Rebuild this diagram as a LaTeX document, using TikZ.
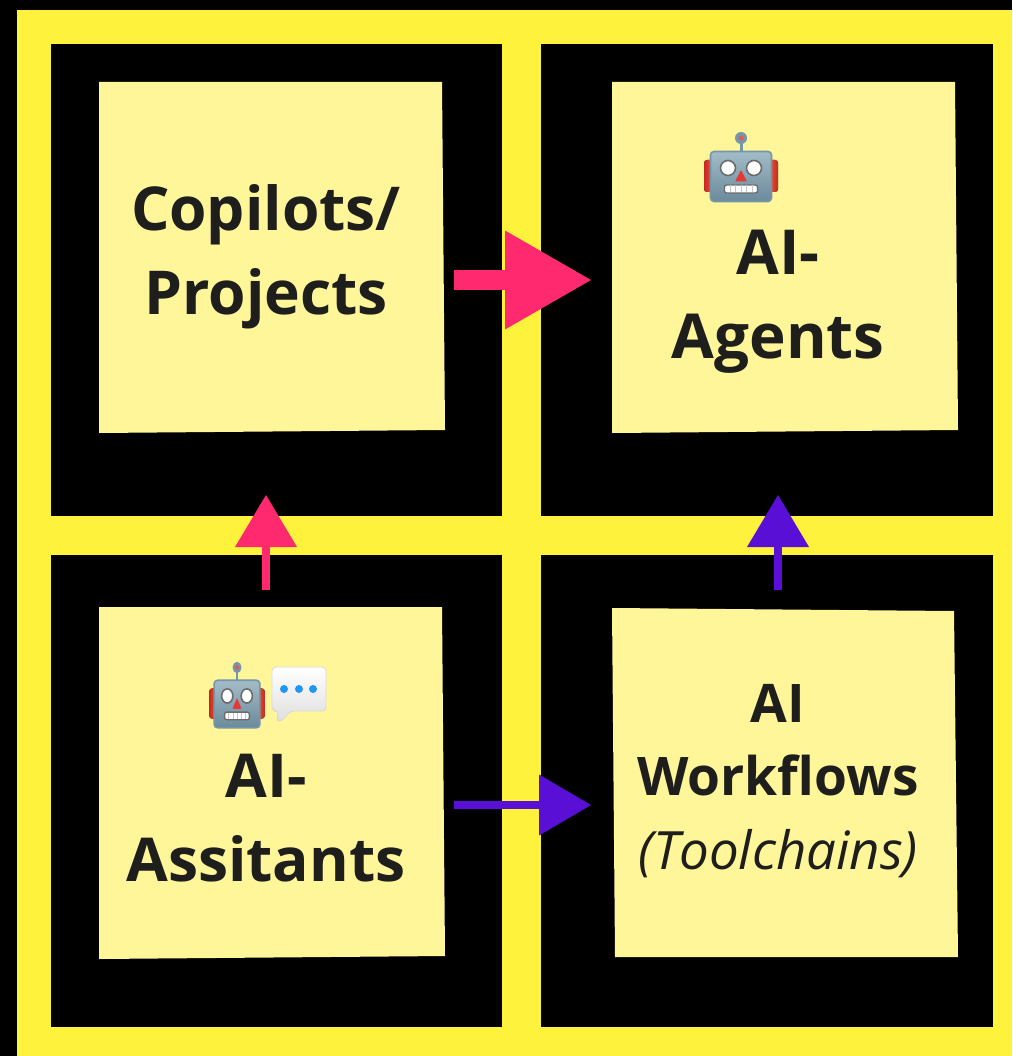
\documentclass[tikz,border=0pt]{standalone}
\usepackage{fontspec}
\setmainfont{Open Sans}
\usetikzlibrary{arrows.meta}
\definecolor{bgyellow}{HTML}{FFF23C}
\definecolor{noteyellow}{HTML}{FFF599}
\definecolor{inkdark}{HTML}{1E1E1C}
\definecolor{hotpink}{HTML}{FF2970}
\definecolor{violet}{HTML}{5A0FD6}
\definecolor{robotedge}{HTML}{7297AA}
\definecolor{robottop}{HTML}{A4BCC8}
\definecolor{robotbot}{HTML}{6A8A9B}
\definecolor{earred}{HTML}{C62828}
\definecolor{earorange}{HTML}{F4511E}
\definecolor{nosered}{HTML}{E53935}
\definecolor{dotblue}{HTML}{2196F3}
\tikzset{
  panel/.style={fill=black},
  sticky/.style={fill=noteyellow},
  title/.style={text=inkdark,font=\fontsize{60.5}{84}\selectfont\bfseries,align=center,inner sep=0pt},
  fatarrow/.style n args={4}{draw=#1,line width=#2,-{Triangle[length=#3,width=#4,fill=#1,line width=0pt]}},
  robot/.pic={
    % ears
    \fill[rounded corners=3pt,left color=earred,right color=earorange] (-37,-7) rectangle (-28,25);
    \fill[rounded corners=3pt,right color=earred,left color=earorange] (37,-7) rectangle (28,25);
    % antenna
    \fill[robotedge] (-1.5,-29) rectangle (1.5,-15);
    \fill[robotedge] (0,-29) circle (6);
    \fill[nosered!80!pink] (0,-29) circle (2.4);
    % head
    \draw[robotedge,line width=1.6pt,rounded corners=3.5pt,top color=robottop,bottom color=robotbot] (-30.5,-15.5) rectangle (30.5,34.5);
    % eyes
    \draw[draw=gray!85!black,line width=1.6pt,fill=white] (-13,1) circle (7.5);
    \draw[draw=gray!85!black,line width=1.6pt,fill=white] (13,1) circle (7.5);
    % nose
    \fill[nosered,rounded corners=1pt] (0,3) -- (-6,14.5) -- (6,14.5) -- cycle;
    % teeth
    \draw[draw=gray!85!black,line width=1.4pt,fill=white,rounded corners=2pt] (-16.5,18) rectangle (16.5,26);
    \foreach \t in {-11,-5.5,0,5.5,11} \draw[gray!45,line width=.6pt] (\t,18.5) -- (\t,25.5);
  }
}
\begin{document}
\begin{tikzpicture}[x=1pt,y=-1pt]
\useasboundingbox (0,0) rectangle (1012,1056);
\fill[black] (0,0) rectangle (1012,1056);
\fill[bgyellow] (17,10) rectangle (1012,1056);
% panels
\fill[panel] (51,44) rectangle (502,516);
\fill[panel] (541,44) rectangle (993,516);
\fill[panel] (51,555) rectangle (502,1027);
\fill[panel] (541,555) rectangle (993,1027);
% sticky notes
\fill[sticky] (99,82) -- (442,82) -- (445,430) -- (99,433) -- cycle;
\fill[sticky] (612,82) -- (955,82) -- (958,430) -- (612,433) -- cycle;
\fill[sticky] (99,607) -- (442,607) -- (445,956) -- (99,959) -- cycle;
\fill[sticky] (612,608) -- (954,611) -- (958,957) -- (615,957) -- cycle;
% texts
\node[title] (copilots) at (266,257) {Copilots/\\Projects};
\node[title,font=\fontsize{62}{84}\selectfont\bfseries] (agents) at (778,302) {AI-\\Agents};
\node[title] (assistants) at (266,818) {AI-\\Assitants};
\node[title,font=\fontsize{53.2}{73}\selectfont\bfseries] (workflows) at (778,740) {AI\\Workflows};
\node[title,font=\fontsize{52.8}{60}\selectfont\itshape,anchor=base] (toolchains) at (778,869) {(Toolchains)};
% emoji
\pic at (741,167) {robot};
\pic[xscale=.75,yscale=.95] at (237,695) {robot};
\shade[top color=white,bottom color=gray!25,rounded corners=4pt]
  (272,667) -- (326,667) -- (326,711) -- (290,711) -- (283,720) -- (276,722) -- (279,711) -- (272,711) -- cycle;
\draw[gray!30,line width=.8pt,rounded corners=4pt]
  (272,667) -- (326,667) -- (326,711) -- (290,711) -- (283,720) -- (276,722) -- (279,711) -- (272,711) -- cycle;
\fill[dotblue] (284,689) circle (4) (299,689) circle (4) (313,689) circle (4);
% connector ends
\coordinate (copilotsR) at (454,280);
\coordinate (agentsL) at (591,280);
\coordinate (assistantsU) at (266,590);
\coordinate (copilotsD) at (266,495);
\coordinate (workflowsU) at (778,590);
\coordinate (agentsD) at (778,495);
\coordinate (assistantsR) at (454,805);
\coordinate (workflowsL) at (591,805);
% connectors
\draw[fatarrow={hotpink}{20pt}{86pt}{99pt}] (copilotsR) -- (agentsL);
\draw[fatarrow={hotpink}{8pt}{52pt}{62pt}] (assistantsU) -- (copilotsD);
\draw[fatarrow={violet}{8pt}{52pt}{62pt}] (workflowsU) -- (agentsD);
\draw[fatarrow={violet}{8pt}{52pt}{61pt}] (assistantsR) -- (workflowsL);
\end{tikzpicture}
\end{document}
